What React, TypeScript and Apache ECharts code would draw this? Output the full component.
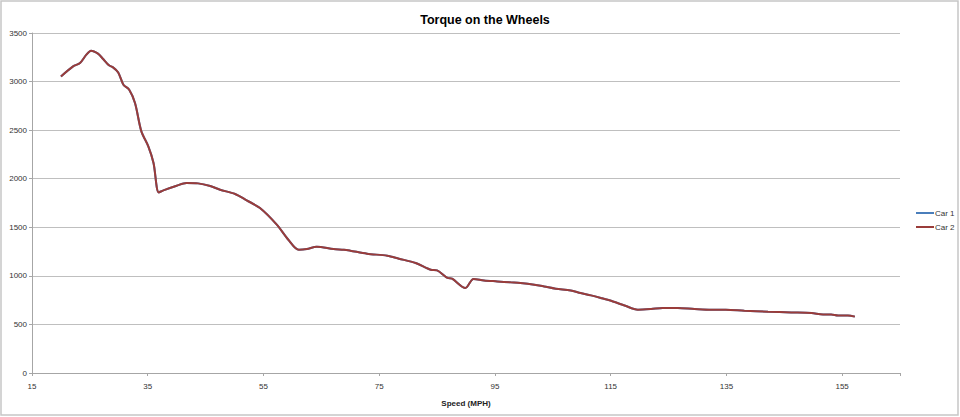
import React, { useEffect, useRef } from "react";
import * as echarts from "echarts";

const speeds = [
  20.0, 22.1, 23.3, 24.4, 25.2, 26.4, 27.3, 28.3, 29.0, 29.9, 30.8, 31.8, 32.8, 33.9, 35.1, 36.0, 36.9, 37.7,
  40.0, 41.7, 43.7, 45.8, 47.5, 50.1, 52.1, 54.4, 57.3, 59.3, 61.1, 62.5, 64.2, 67.1, 68.9, 70.0,
  72.9, 76.4, 78.4, 81.3, 83.9, 85.0, 86.8, 87.6, 89.9, 91.3, 93.1, 95.4, 97.7, 99.4, 101.8, 103.5,
  105.5, 108.1, 109.8, 111.6, 113.3, 115.4, 117.4, 119.7, 122.0, 124.0, 126.6, 129.5, 132.4, 134.9,
  138.1, 142.2, 146.2, 149.7, 151.7, 153.1, 154.3, 156.0, 157.2,
];
const car2Torque = [
  3053, 3157, 3191, 3277, 3318, 3287, 3232, 3167, 3146, 3094, 2968, 2916, 2779, 2487, 2333, 2162, 1859, 1880,
  1928, 1956, 1952, 1925, 1887, 1843, 1777, 1698, 1527, 1372, 1269, 1276, 1300, 1276, 1269, 1259,
  1228, 1207, 1177, 1132, 1063, 1056, 978, 971, 875, 968, 953, 943, 933, 926, 909, 891,
  868, 850, 823, 799, 772, 736, 695, 652, 659, 670, 669, 659, 652, 652,
  641, 631, 624, 618, 603, 603, 593, 593, 580,
];
const car1Torque = car2Torque.slice();
const seriesNames = ["Car 1", "Car 2"];
const xTicks = [15, 35, 55, 75, 95, 115, 135, 155];

export default function App() {
  const ref = useRef<HTMLDivElement>(null);
  useEffect(() => {
    document.body.style.margin = "0";
    const chart = echarts.init(ref.current!, null, { renderer: "svg" });
    const font = "'Liberation Sans', Arial, sans-serif";
    const pairs = (ys: number[]) => speeds.map((x, i) => [x, ys[i]]);
    chart.setOption({
      animation: false,
      backgroundColor: "#ffffff",
      textStyle: { fontFamily: font },
      title: {
        text: "Torque on the Wheels",
        left: 480,
        textAlign: "center",
        top: 8,
        textStyle: { fontSize: 12.5, fontWeight: "bold", color: "#000", fontFamily: font },
      },
      legend: {
        orient: "vertical",
        left: 916,
        top: 209,
        padding: 0,
        itemWidth: 18,
        itemHeight: 2,
        itemGap: 6,
        icon: "rect",
        textStyle: { fontSize: 8, color: "#333", fontFamily: font, padding: [0, 0, 0, -4] },
        data: seriesNames,
      },
      graphic: [
        {
          type: "rect",
          shape: { x: 1, y: 1, width: 957, height: 414 },
          style: { fill: "none", stroke: "#c6c6c6", lineWidth: 1.5 },
          silent: true,
        },
      ],
      grid: { left: 32, right: 60, top: 33, bottom: 44, containLabel: false },
      xAxis: {
        type: "value",
        min: 15,
        max: 165,
        interval: 20,
        name: "Speed (MPH)",
        nameLocation: "middle",
        nameGap: 26,
        nameTextStyle: { fontSize: 8, fontWeight: "bold", color: "#222", fontFamily: font },
        axisLine: { show: true, lineStyle: { color: "#a6a6a6", width: 1 } },
        axisTick: { show: true, length: 3, lineStyle: { color: "#a6a6a6" } },
        axisLabel: {
          fontSize: 8,
          color: "#333",
          margin: 9,
          formatter: (v: number) => (xTicks.includes(v) ? String(v) : ""),
        },
        splitLine: { show: false },
      },
      yAxis: {
        type: "value",
        min: 0,
        max: 3500,
        interval: 500,
        axisLine: { show: true, lineStyle: { color: "#a6a6a6", width: 1 } },
        axisTick: { show: true, length: 3, lineStyle: { color: "#a6a6a6" } },
        axisLabel: { fontSize: 8, color: "#333", margin: 5, formatter: (v: number) => String(v) },
        splitLine: { show: true, lineStyle: { color: "#bfbfbf", width: 1 } },
      },
      series: [
        {
          name: seriesNames[0],
          type: "line",
          data: pairs(car1Torque),
          showSymbol: false,
          smooth: 0.3,
          color: "#4a7ebb",
          lineStyle: { width: 2, color: "#4a7ebb" },
        },
        {
          name: seriesNames[1],
          type: "line",
          data: pairs(car2Torque),
          showSymbol: false,
          smooth: 0.3,
          color: "#9a3c3a",
          lineStyle: { width: 2, color: "#9a3c3a" },
        },
      ],
    });
    return () => chart.dispose();
  }, []);
  return <div ref={ref} style={{ width: 960, height: 417 }} />;
}
